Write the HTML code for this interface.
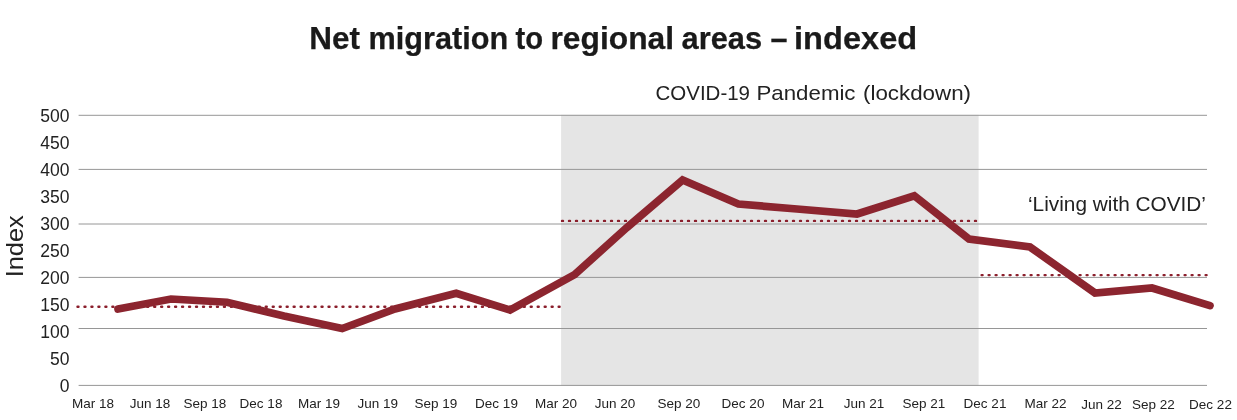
<!DOCTYPE html>
<html>
<head>
<meta charset="utf-8">
<title>Net migration to regional areas – indexed</title>
<style>
html,body{margin:0;padding:0;background:#fff;}
body{width:1237px;height:420px;overflow:hidden;position:relative;font-family:"Liberation Sans",sans-serif;}
svg{position:absolute;left:0;top:0;display:block;will-change:transform;}
text{font-family:"Liberation Sans",sans-serif;fill:#222;}
.txt{filter:grayscale(1);}
.title text{font-weight:bold;font-size:30.5px;fill:#1a1a1a;stroke:#1a1a1a;stroke-width:0.25px;}
.yl{font-size:17.5px;text-anchor:end;}
.xl{font-size:13.5px;text-anchor:middle;}
.ann{font-size:20.3px;}
</style>
</head>
<body>
<svg width="1237" height="420" viewBox="0 0 1237 420">
  <rect x="0" y="0" width="1237" height="420" fill="#ffffff"/>
  <!-- shaded lockdown band -->
  <rect x="561.1" y="114.8" width="417.5" height="271.1" fill="#e5e5e5"/>
  <!-- gridlines -->
  <g stroke="#969696" stroke-width="1">
    <line x1="78.6" y1="115.3" x2="1207" y2="115.3"/>
    <line x1="78.6" y1="169.4" x2="1207" y2="169.4"/>
    <line x1="78.6" y1="224" x2="1207" y2="224"/>
    <line x1="78.6" y1="277.4" x2="1207" y2="277.4"/>
    <line x1="78.6" y1="328.5" x2="1207" y2="328.5"/>
    <line x1="78.6" y1="385.4" x2="1207" y2="385.4"/>
  </g>
  <!-- title -->
  <g class="title txt">
    <text x="309.2" y="48.6" textLength="50.8" lengthAdjust="spacingAndGlyphs">Net</text>
    <text x="368.5" y="48.6" textLength="139.6" lengthAdjust="spacingAndGlyphs">migration</text>
    <text x="515.5" y="48.6" textLength="27.6" lengthAdjust="spacingAndGlyphs">to</text>
    <text x="550.5" y="48.6" textLength="123.6" lengthAdjust="spacingAndGlyphs">regional</text>
    <text x="681.5" y="48.6" textLength="80.6" lengthAdjust="spacingAndGlyphs">areas</text>
    <text x="770.5" y="48.6" textLength="17" lengthAdjust="spacingAndGlyphs">–</text>
    <text x="794" y="48.6" textLength="123.2" lengthAdjust="spacingAndGlyphs">indexed</text>
  </g>
  <!-- y labels -->
  <g class="yl txt">
    <text x="69.4" y="121.5">500</text>
    <text x="69.4" y="148.5">450</text>
    <text x="69.4" y="175.5">400</text>
    <text x="69.4" y="202.5">350</text>
    <text x="69.4" y="229.5">300</text>
    <text x="69.4" y="256.5">250</text>
    <text x="69.4" y="283.5">200</text>
    <text x="69.4" y="310.5">150</text>
    <text x="69.4" y="337.5">100</text>
    <text x="69.4" y="364.5">50</text>
    <text x="69.4" y="391.5">0</text>
  </g>
  <!-- y title -->
  <g class="txt">
    <text transform="translate(23,246.3) rotate(-90)" text-anchor="middle" font-size="24" textLength="62" lengthAdjust="spacingAndGlyphs">Index</text>
  </g>
  <!-- annotations -->
  <g class="ann txt">
    <text x="655.5" y="99.7" textLength="94.5" lengthAdjust="spacingAndGlyphs">COVID-19</text>
    <text x="756.5" y="99.7" textLength="99" lengthAdjust="spacingAndGlyphs">Pandemic</text>
    <text x="863" y="99.7" textLength="108" lengthAdjust="spacingAndGlyphs">(lockdown)</text>
    <text x="1028" y="211" textLength="178" lengthAdjust="spacingAndGlyphs">‘Living with COVID’</text>
  </g>
  <!-- dotted averages -->
  <g stroke="#8b1f2c" stroke-width="2.4" stroke-dasharray="1 6" stroke-linecap="round" fill="none">
    <line x1="77.5" y1="306.8" x2="559.6" y2="306.8" stroke-dasharray="1 5.973"/>
    <line x1="562" y1="220.9" x2="977.5" y2="220.9"/>
    <line x1="981.6" y1="275.1" x2="1207" y2="275.1"/>
  </g>
  <!-- data line -->
  <polyline fill="none" stroke="#8c252f" stroke-width="7.7" stroke-linejoin="miter" stroke-linecap="round"
   points="118,309 171,299 227,302.2 284,316 342.2,328.6 395,309 456.2,293.2 510,310 574.6,274.5 627,227.5 682.6,180 738.4,204 797,209 857,214 914.3,195.8 969,239 1030,247 1095,293 1152,288 1210,305.6"/>
  <!-- x labels -->
  <g class="xl txt">
    <text x="93" y="408">Mar 18</text>
    <text x="150" y="408">Jun 18</text>
    <text x="205" y="408">Sep 18</text>
    <text x="261" y="408">Dec 18</text>
    <text x="319" y="408">Mar 19</text>
    <text x="377.8" y="408">Jun 19</text>
    <text x="436" y="408">Sep 19</text>
    <text x="496.5" y="408">Dec 19</text>
    <text x="556" y="408">Mar 20</text>
    <text x="615" y="408">Jun 20</text>
    <text x="678.8" y="408">Sep 20</text>
    <text x="743" y="408">Dec 20</text>
    <text x="803" y="408">Mar 21</text>
    <text x="864" y="408">Jun 21</text>
    <text x="924" y="408">Sep 21</text>
    <text x="985" y="408">Dec 21</text>
    <text x="1045.5" y="408">Mar 22</text>
    <text x="1101.5" y="409">Jun 22</text>
    <text x="1153.5" y="409">Sep 22</text>
    <text x="1210.5" y="409">Dec 22</text>
  </g>
</svg>
</body>
</html>
